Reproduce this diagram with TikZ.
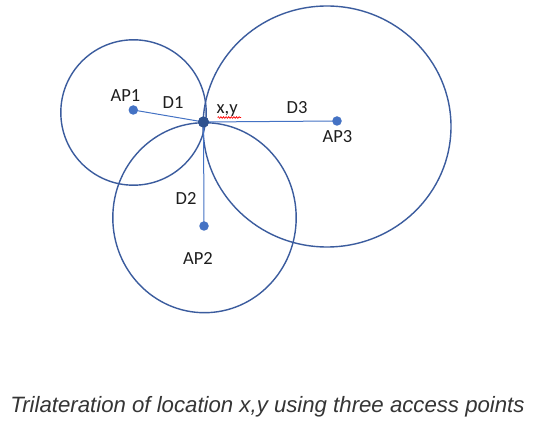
\documentclass[tikz,border=0pt]{standalone}
\usepackage{fontspec}
\usetikzlibrary{decorations.pathmorphing}
\newfontfamily\labfont{Carlito}
\newfontfamily\captfont{Liberation Sans}
\definecolor{ring}{HTML}{3B5C9E}
\definecolor{dotblue}{HTML}{4472C4}
\definecolor{centerdot}{HTML}{2F528F}
\definecolor{txt}{HTML}{1E1E1E}
\tikzset{
  ringline/.style={draw=ring, line width=1.4pt},
  spoke/.style={draw=dotblue, line width=1pt},
  apdot/.style={circle, fill=dotblue, inner sep=0pt, minimum size=9.5pt},
  xydot/.style={circle, fill=centerdot, inner sep=0pt, minimum size=11pt},
  lab/.style={font=\labfont\fontsize{18.5}{20}\selectfont, text=txt, inner sep=0pt, anchor=base west},
}
\begin{document}
\begin{tikzpicture}[x=1pt,y=-1pt]
\useasboundingbox[fill=white] (0,0) rectangle (536,427);
% circle centres
\coordinate (c1) at (133.5,112.5);
\coordinate (c2) at (204.5,217.7);
\coordinate (c3) at (327,126.5);
\draw[ringline] (c1) circle[radius=72.7pt];
\draw[ringline] (c2) circle[x radius=91.7pt, y radius=95pt];
\draw[ringline] (c3) circle[x radius=124pt, y radius=120.5pt];
% points
\node[apdot] (ap1) at (133.3,110) {};
\node[apdot] (ap2) at (204,226) {};
\node[apdot] (ap3) at (337,121) {};
\node[xydot] (xy) at (203.5,122) {};
\draw[spoke] (ap1.center) -- (xy.center);
\draw[spoke] (xy.center) -- (ap2.center);
\draw[spoke] (xy.center) -- (ap3.center);
\node[xydot] at (xy) {};
% labels
\node[lab] (lap1) at (110.5,101.7) {AP1};
\node[lab] (ld1) at (162.5,109) {D1};
\node[lab] (lxy) at (216.5,114) {x,y};
\node[lab] (ld2) at (175.5,205) {D2};
\node[lab] (lap2) at (183,264.3) {AP2};
\node[lab] (ld3) at (286.5,113.3) {D3};
\node[lab] (lap3) at (322.5,142.7) {AP3};
\coordinate (sq1) at (217.5,117.5);
\coordinate (sq2) at (241,117.5);
\draw[red, line width=0.7pt, decoration={snake, amplitude=0.8pt, segment length=2.6pt}, decorate] (sq1) -- (sq2);
% caption
\node[font=\captfont\itshape\fontsize{22.2}{24}\selectfont, text=txt!90!white, inner sep=0pt, anchor=base] (cap) at (267.5,413) {Trilateration of location x,y using three access points};
\end{tikzpicture}
\end{document}
